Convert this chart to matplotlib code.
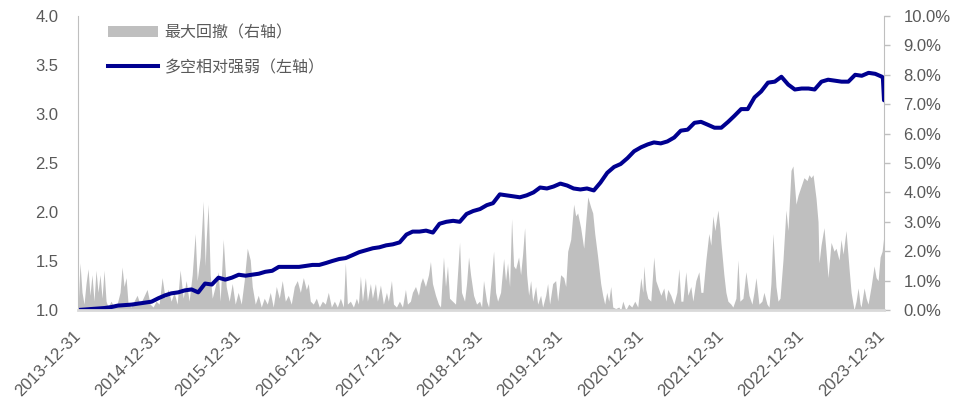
import numpy as np
import pandas as pd
import matplotlib
matplotlib.use("Agg")
import matplotlib.pyplot as plt
from matplotlib.patches import Patch
from matplotlib.lines import Line2D

plt.rcParams['font.family'] = ['Liberation Sans', 'Noto Sans CJK SC', 'DejaVu Sans']

START = pd.Timestamp('2013-12-31')

# long/short relative strength (left axis), month-end values Dec 2013 .. Dec 2023
strength = [1.00, 1.005, 1.01, 1.015, 1.02, 1.03, 1.045, 1.05, 1.055, 1.065, 1.075, 1.085, 1.12,
            1.15, 1.17, 1.18, 1.20, 1.21, 1.18, 1.27, 1.26, 1.33, 1.31, 1.33, 1.36,
            1.35, 1.36, 1.37, 1.39, 1.40, 1.44, 1.44, 1.44, 1.44, 1.45, 1.46, 1.46,
            1.48, 1.50, 1.52, 1.53, 1.56, 1.59, 1.61, 1.63, 1.64, 1.66, 1.67, 1.69,
            1.77, 1.80, 1.80, 1.81, 1.79, 1.88, 1.90, 1.91, 1.90, 1.98, 2.01, 2.03,
            2.07, 2.09, 2.18, 2.17, 2.16, 2.15, 2.17, 2.20, 2.25, 2.24, 2.26, 2.29,
            2.27, 2.24, 2.23, 2.24, 2.22, 2.30, 2.40, 2.46, 2.49, 2.55, 2.62, 2.66,
            2.69, 2.71, 2.70, 2.72, 2.76, 2.83, 2.84, 2.91, 2.92, 2.89, 2.86, 2.86,
            2.92, 2.98, 3.05, 3.05, 3.17, 3.23, 3.32, 3.33, 3.38, 3.30, 3.25, 3.26,
            3.26, 3.25, 3.33, 3.35, 3.34, 3.33, 3.33, 3.40, 3.39, 3.42, 3.41, 3.38]
tail_dates = ['2024-01-04', '2024-01-09']
tail_values = [3.37, 3.14]

# max drawdown (right axis, %), years since 2013-12-31
dd_t = [0, 0.025, 0.050, 0.075, 0.100, 0.125, 0.149, 0.174, 0.199, 0.224, 0.249, 0.274, 0.299,
        0.324, 0.349, 0.374, 0.411, 0.448, 0.486, 0.523, 0.548, 0.573, 0.598, 0.623, 0.660,
        0.697, 0.735, 0.772, 0.809, 0.859, 0.897, 0.934, 0.971, 1.009, 1.046, 1.083, 1.121,
        1.158, 1.195, 1.233, 1.270, 1.308, 1.345, 1.382, 1.420, 1.457, 1.482, 1.519, 1.557,
        1.582, 1.594, 1.619, 1.644, 1.669, 1.706, 1.743, 1.768, 1.806, 1.843, 1.880, 1.918,
        1.955, 1.992, 2.030, 2.067, 2.105, 2.142, 2.167, 2.204, 2.242, 2.279, 2.316, 2.354,
        2.391, 2.428, 2.466, 2.503, 2.540, 2.578, 2.615, 2.652, 2.690, 2.727, 2.765, 2.802,
        2.839, 2.864, 2.889, 2.926, 2.964, 3.001, 3.039, 3.076, 3.113, 3.151, 3.188, 3.225,
        3.263, 3.300, 3.325, 3.350, 3.387, 3.425, 3.462, 3.487, 3.512, 3.537, 3.574, 3.599,
        3.636, 3.661, 3.699, 3.723, 3.761, 3.798, 3.836, 3.860, 3.898, 3.923, 3.960, 3.997,
        4.035, 4.072, 4.097, 4.134, 4.159, 4.197, 4.234, 4.259, 4.284, 4.321, 4.359, 4.383,
        4.408, 4.446, 4.483, 4.508, 4.545, 4.570, 4.595, 4.620, 4.657, 4.695, 4.745, 4.769,
        4.807, 4.832, 4.857, 4.882, 4.919, 4.956, 4.994, 5.019, 5.043, 5.081, 5.106, 5.143,
        5.168, 5.193, 5.218, 5.255, 5.293, 5.317, 5.342, 5.367, 5.392, 5.417, 5.442, 5.479,
        5.504, 5.529, 5.554, 5.579, 5.604, 5.629, 5.654, 5.691, 5.716, 5.753, 5.778, 5.816,
        5.840, 5.865, 5.903, 5.940, 5.965, 6.002, 6.040, 6.065, 6.090, 6.127, 6.164, 6.189,
        6.214, 6.251, 6.289, 6.314, 6.339, 6.376, 6.401, 6.426, 6.463, 6.500, 6.525, 6.550,
        6.575, 6.600, 6.625, 6.650, 6.687, 6.725, 6.750, 6.775, 6.812, 6.849, 6.887, 6.924,
        6.961, 6.999, 7.024, 7.036, 7.061, 7.086, 7.123, 7.160, 7.185, 7.210, 7.248, 7.285,
        7.310, 7.335, 7.372, 7.410, 7.447, 7.472, 7.497, 7.522, 7.559, 7.584, 7.621, 7.646,
        7.684, 7.721, 7.746, 7.771, 7.808, 7.845, 7.870, 7.895, 7.920, 7.958, 7.982, 7.995,
        8.032, 8.057, 8.082, 8.119, 8.144, 8.182, 8.207, 8.231, 8.269, 8.306, 8.344, 8.381,
        8.406, 8.431, 8.468, 8.505, 8.530, 8.568, 8.593, 8.617, 8.642, 8.680, 8.705, 8.730,
        8.767, 8.804, 8.829, 8.867, 8.891, 8.929, 8.954, 8.991, 9.028, 9.066, 9.091, 9.116,
        9.141, 9.178, 9.203, 9.215, 9.240, 9.277, 9.302, 9.327, 9.365, 9.402, 9.427, 9.464,
        9.489, 9.514, 9.551, 9.589, 9.614, 9.651, 9.676, 9.701, 9.726, 9.738, 9.776, 9.801,
        9.825, 9.863, 9.900, 9.925, 9.950, 9.975, 10.000, 10.025]
dd_v = [0.0, 1.6, 0.6, 0.2, 0.9, 1.4, 0.5, 1.2, 0.3, 1.35, 0.6, 1.2, 0.4,
        1.35, 0.3, 0.1, 0.3, 0.1, 0.2, 0.6, 1.46, 0.8, 1.1, 0.2, 0.1,
        0.3, 0.5, 0.2, 0.4, 0.7, 0.2, 0.1, 0.3, 0.2, 1.1, 0.4, 0.7,
        0.3, 0.6, 0.2, 1.36, 0.4, 1.0, 0.3, 1.2, 2.6, 1.0, 1.8, 3.7,
        1.5, 2.4, 3.6, 1.2, 0.4, 0.8, 1.3, 0.3, 2.4, 0.8, 0.3, 0.9,
        0.2, 0.6, 0.2, 1.0, 2.1, 1.7, 0.8, 0.2, 0.5, 0.1, 0.4, 0.2,
        0.6, 0.1, 0.8, 0.4, 1.0, 0.3, 0.5, 0.2, 0.8, 1.0, 0.6, 1.1,
        0.7, 0.9, 0.3, 0.2, 0.4, 0.1, 0.3, 0.2, 0.6, 0.1, 0.3, 0.1,
        0.4, 0.1, 1.6, 0.2, 0.3, 0.1, 0.4, 0.2, 1.15, 0.3, 1.1, 0.3,
        0.9, 0.4, 0.9, 0.3, 0.85, 0.2, 0.6, 0.3, 1.0, 0.2, 0.1, 0.3,
        0.1, 0.7, 0.2, 0.3, 0.6, 0.8, 0.5, 0.9, 1.1, 0.8, 1.2, 1.65,
        0.9, 0.5, 0.2, 0.1, 1.8, 0.8, 1.5, 0.4, 0.3, 0.2, 2.3, 0.6,
        0.3, 0.9, 1.8, 1.2, 0.5, 0.2, 0.3, 0.1, 1.0, 0.3, 0.1, 1.2,
        2.0, 0.6, 0.3, 0.6, 1.75, 1.0, 1.6, 0.8, 3.1, 1.5, 1.4, 1.8,
        1.2, 1.9, 2.8, 1.2, 0.5, 1.0, 0.3, 0.8, 0.2, 0.5, 0.1, 0.5,
        0.9, 0.2, 0.9, 1.0, 0.3, 1.2, 1.1, 0.8, 2.0, 2.4, 3.6, 3.2,
        3.3, 2.8, 2.1, 3.0, 3.85, 3.5, 3.3, 2.6, 1.8, 0.9, 0.5, 0.2,
        0.6, 0.3, 0.8, 0.1, 0.05, 0.1, 0.0, 0.3, 0.0, 0.2, 0.1, 0.3,
        0.1, 1.1, 0.6, 1.5, 0.7, 0.4, 0.3, 1.8, 1.0, 0.8, 0.5, 0.75,
        0.3, 0.7, 0.5, 0.2, 0.6, 1.4, 0.3, 0.3, 1.3, 0.5, 0.8, 0.3,
        1.0, 1.3, 0.6, 0.6, 1.7, 2.6, 2.2, 3.2, 2.7, 3.4, 2.8, 2.3,
        1.2, 0.6, 0.3, 0.2, 0.1, 0.4, 1.7, 0.3, 0.4, 1.3, 0.5, 0.2,
        0.6, 1.1, 0.2, 0.3, 0.6, 0.2, 0.1, 0.9, 2.6, 0.8, 0.3, 0.4,
        1.7, 3.4, 2.7, 4.75, 4.9, 3.6, 3.9, 4.2, 4.5, 4.4, 4.6, 4.5,
        4.6, 3.8, 3.0, 1.6, 2.2, 2.8, 2.0, 1.1, 2.3, 2.0, 2.1, 1.7,
        2.4, 1.9, 2.7, 1.4, 0.6, 0.0, 0.3, 0.75, 0.2, 0.1, 0.75, 0.4,
        0.2, 0.8, 1.5, 1.1, 1.0, 1.8, 2.0, 2.6]

xtick_labels = ['2013-12-31', '2014-12-31', '2015-12-31', '2016-12-31', '2017-12-31', '2018-12-31',
                '2019-12-31', '2020-12-31', '2021-12-31', '2022-12-31', '2023-12-31']

line_dates = list(pd.date_range('2013-12-31', '2023-12-31', freq='ME')) + list(pd.to_datetime(tail_dates))
line_vals = strength + tail_values
dd_dates = START + pd.to_timedelta(np.array(dd_t) * 365.25, unit='D')

gray_txt = '#595959'
fig = plt.figure(figsize=(9.66, 4.03), dpi=100)
ax = fig.add_axes([78 / 966, 1 - 310 / 403, 806 / 966, 294 / 403])
ax2 = ax.twinx()
ax.set_zorder(ax2.get_zorder() + 1)
ax.patch.set_visible(False)

ax2.fill_between(dd_dates, dd_v, 0, color='#bfbfbf', lw=0)
ax.plot(line_dates, line_vals, color='#000090', lw=2.9, solid_capstyle='round')

ax.set_xlim(START, line_dates[-1])
ax.set_ylim(1.0, 4.0)
ax2.set_ylim(0, 10)
ax.set_yticks(np.arange(1.0, 4.01, 0.5))
ax.set_yticklabels(['%.1f' % v for v in np.arange(1.0, 4.01, 0.5)])
ax2.set_yticks(np.arange(0, 10.01, 1))
ax2.set_yticklabels(['%.1f%%' % v for v in np.arange(0, 10.01, 1)])

ax.set_xticks(pd.to_datetime(xtick_labels))
ax.set_xticklabels(xtick_labels, rotation=45, ha='right', va='center', rotation_mode='anchor')

ax.tick_params(axis='y', length=0, pad=14, labelsize=12, labelcolor=gray_txt)
ax.tick_params(axis='x', length=0, pad=17, labelsize=12, labelcolor=gray_txt)
ax2.tick_params(axis='y', length=4, width=1, color='#bfbfbf', pad=10, labelsize=12, labelcolor=gray_txt)

for s in ['top', 'right']:
    ax.spines[s].set_visible(False)
for s in ['top', 'left', 'bottom']:
    ax2.spines[s].set_visible(False)
ax.spines['left'].set_color('#bfbfbf')
ax.spines['bottom'].set_color('#d9d9d9')
ax.spines['bottom'].set_linewidth(2)
ax2.spines['right'].set_color('#bfbfbf')

handles = [Patch(color='#bfbfbf', lw=0), Line2D([], [], color='#000090', lw=2.9)]
labels = ['最大回撤（右轴）', '多空相对强弱（左轴）']
leg = ax.legend(handles, labels, loc='upper left', bbox_to_anchor=(0.02, 1.02), frameon=False,
                prop={'family': ['Noto Sans CJK SC'], 'size': 11.5}, labelcolor=gray_txt,
                handlelength=3.1, handletextpad=0.4, labelspacing=1.1)

fig.savefig('out.png', dpi=100)
